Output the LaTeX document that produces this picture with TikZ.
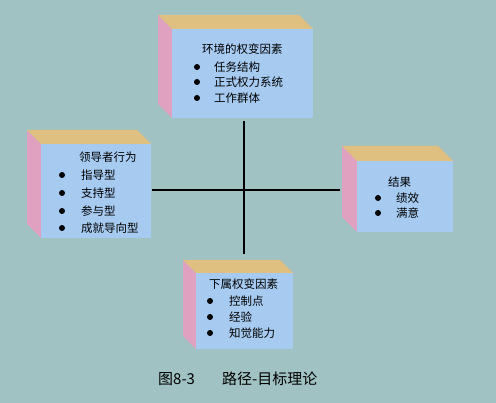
\documentclass[tikz,border=0pt]{standalone}
\usepackage{fontspec}
\setmainfont{Noto Sans CJK SC}
\definecolor{bg}{RGB}{160,194,194}
\definecolor{frontc}{RGB}{166,202,240}
\definecolor{topc}{RGB}{224,192,128}
\definecolor{sidec}{RGB}{224,160,192}
\tikzset{
  txt/.style={font=\fontsize{11.5}{13}\selectfont, inner sep=0pt, anchor=west},
  dot/.style={circle, fill=black, inner sep=0pt, minimum size=6pt},
  axis/.style={line width=1.8pt, black},
  captxt/.style={font=\fontsize{15}{17}\selectfont, inner sep=0pt, anchor=west}
}
% #1 name, #2 front-left x, #3 front-top y, #4 front-right x, #5 front-bottom y, #6 depth
\newcommand\cubebox[6]{%
  \fill[sidec] (#2-#6,#3-#6) -- (#2,#3) -- (#2,#5) -- (#2-#6,#5-#6) -- cycle;
  \fill[topc] (#2-#6,#3-#6) -- (#4-#6,#3-#6) -- (#4,#3) -- (#2,#3) -- cycle;
  \node[fill=frontc, inner sep=0pt, minimum width=#4-#2, minimum height=#5-#3, anchor=north west] (#1) at (#2,#3) {};
}
\begin{document}
\begin{tikzpicture}[x=1pt,y=-1pt]
\fill[bg] (0,0) rectangle (496,403);
\useasboundingbox (0,0) rectangle (496,403);

\cubebox{env}{172}{29}{313}{118}{14}
\cubebox{lead}{41}{144}{151}{238}{14}
\cubebox{res}{357}{161}{453}{232}{15}
\cubebox{sub}{196}{273}{293}{349}{13}

% environment box text
\node[txt] (envt) at (202,49) {环境的权变因素};
\node[dot] (envd1) at (197,67) {}; \node[txt] (env1) at (214,67) {任务结构};
\node[dot] (envd2) at (197,82) {}; \node[txt] (env2) at (214,82) {正式权力系统};
\node[dot] (envd3) at (197,98) {}; \node[txt] (env3) at (214,98) {工作群体};

% leader box text
\node[txt] (leadt) at (79,157) {领导者行为};
\node[dot] (leadd1) at (62,175) {}; \node[txt] (lead1) at (81,175) {指导型};
\node[dot] (leadd2) at (62,193) {}; \node[txt] (lead2) at (81,193) {支持型};
\node[dot] (leadd3) at (62,211) {}; \node[txt] (lead3) at (81,211) {参与型};
\node[dot] (leadd4) at (62,228) {}; \node[txt] (lead4) at (81,228) {成就导向型};

% result box text
\node[txt] (rest) at (388,182) {结果};
\node[dot] (resd1) at (378,198) {}; \node[txt] (res1) at (396,198) {绩效};
\node[dot] (resd2) at (378,213) {}; \node[txt] (res2) at (396,213) {满意};

% subordinate box text
\node[txt] (subt) at (209,284) {下属权变因素};
\node[dot] (subd1) at (210,301) {}; \node[txt] (sub1) at (229,301) {控制点};
\node[dot] (subd2) at (210,317) {}; \node[txt] (sub2) at (229,317) {经验};
\node[dot] (subd3) at (210,333) {}; \node[txt] (sub3) at (229,333) {知觉能力};

% cross
\coordinate (vx) at (244,0);
\coordinate (hy) at (0,190);
\draw[axis, shorten <=3pt, shorten >=19pt] (env.south -| vx) -- (sub.north -| vx);
\draw[axis, shorten <=1pt, shorten >=17pt] (lead.east |- hy) -- (res.west |- hy);

% caption
\node[captxt] (fig) at (158,379) {图8-3};
\node[captxt] (title) at (222,379) {路径-目标理论};
\end{tikzpicture}
\end{document}
